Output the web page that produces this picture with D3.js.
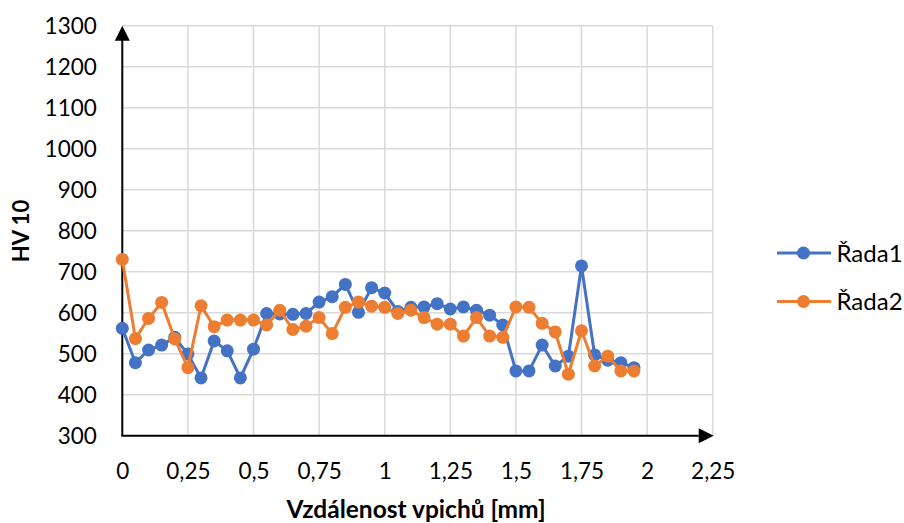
<!DOCTYPE html>
<html><head><meta charset="utf-8">
<script src="https://cdn.jsdelivr.net/npm/d3@7"></script>
<style>body{margin:0;background:#fff}svg{display:block}text{font-family:Lato,"Open Sans",sans-serif;fill:#000}</style>
</head><body><svg id="c" width="904" height="523"></svg>
<script>
const xValues = [0,0.05,0.1,0.15,0.2,0.25,0.3,0.35,0.4,0.45,0.5,0.55,0.6,0.65,0.7,0.75,0.8,0.85,0.9,0.95,1,1.05,1.1,1.15,1.2,1.25,1.3,1.35,1.4,1.45,1.5,1.55,1.6,1.65,1.7,1.75,1.8,1.85,1.9,1.95];
const rada1 = [562,478,509,521,540,499,441,531,507,441,511,598,597,596,598,626,639,669,601,661,648,603,613,614,622,609,614,606,594,570,458,458,521,470,494,714,497,484,478,466];
const rada2 = [730,537,586,625,536,466,617,566,582,582,582,570,606,559,567,588,549,613,626,616,613,598,606,588,572,572,543,588,543,540,614,613,574,553,450,556,470,494,458,458];
const seriesNames = ["Řada1","Řada2"];
const seriesColors = ["#4472C4","#ED7D31"];
const xTicks = [0,0.25,0.5,0.75,1,1.25,1.5,1.75,2,2.25];
const yTicks = [300,400,500,600,700,800,900,1000,1100,1200,1300];

const svg = d3.select("#c");
const x = d3.scaleLinear().domain([0,2.25]).range([122.3,712.7]);
const y = d3.scaleLinear().domain([300,1300]).range([435.7,25.7]);
const fmt = d => String(d).replace(".", ",");

// grid
svg.append("g").selectAll("line").data(yTicks.slice(1)).join("line")
  .attr("x1", x(0)).attr("x2", x(2.25)).attr("y1", d=>y(d)).attr("y2", d=>y(d))
  .attr("stroke","#d9d9d9").attr("stroke-width",1.5);
svg.append("g").selectAll("line").data(xTicks.slice(1)).join("line")
  .attr("x1", d=>x(d)).attr("x2", d=>x(d)).attr("y1", y(300)).attr("y2", y(1300))
  .attr("stroke","#d9d9d9").attr("stroke-width",1.5);

// axes via d3 axis generators (labels only)
const yAxis = svg.append("g").attr("transform",`translate(${x(0)-25.5},0)`)
  .call(d3.axisLeft(y).tickValues(yTicks).tickFormat(d=>String(d)).tickSize(0).tickPadding(0));
yAxis.select(".domain").remove();
yAxis.selectAll("text").attr("font-size",22.5).attr("font-family","Lato").attr("fill","#000").attr("dy","0.36em");

const xAxis = svg.append("g").attr("transform",`translate(0,${y(300)+27.5})`)
  .call(d3.axisBottom(x).tickValues(xTicks).tickFormat(fmt).tickSize(0).tickPadding(0));
xAxis.select(".domain").remove();
xAxis.selectAll("text").attr("font-size",22.5).attr("font-family","Lato").attr("fill","#000").attr("dy","0.71em");

// axis lines with arrows
svg.append("line").attr("x1",x(0)).attr("x2",x(0)).attr("y1",y(300)).attr("y2",y(1300)+14)
  .attr("stroke","#000").attr("stroke-width",2);
svg.append("path").attr("d",`M${x(0)},${y(1300)} L${x(0)-7.5},${y(1300)+15} L${x(0)+7.5},${y(1300)+15}Z`).attr("fill","#000");
svg.append("line").attr("x1",x(0)-1).attr("x2",x(2.25)-14).attr("y1",y(300)).attr("y2",y(300))
  .attr("stroke","#000").attr("stroke-width",2);
svg.append("path").attr("d",`M${x(2.25)+1},${y(300)} L${x(2.25)-14},${y(300)-7.5} L${x(2.25)-14},${y(300)+7.5}Z`).attr("fill","#000");

// series
const data = [rada1, rada2];
const line = d3.line().x((d,i)=>x(xValues[i])).y(d=>y(d));
data.forEach((s,k)=>{
  const g = svg.append("g");
  g.append("path").datum(s).attr("d",line).attr("fill","none")
    .attr("stroke",seriesColors[k]).attr("stroke-width",3).attr("stroke-linejoin","round");
  g.selectAll("circle").data(s).join("circle")
    .attr("cx",(d,i)=>x(xValues[i])).attr("cy",d=>y(d)).attr("r",6.5).attr("fill",seriesColors[k]);
});

// axis titles
svg.append("text").attr("x",416).attr("y",518).attr("text-anchor","middle")
  .attr("font-size",24.5).attr("font-weight","bold").text("Vzdálenost vpichů [mm]");
svg.append("text").attr("transform","translate(28.5,231) rotate(-90)").attr("text-anchor","middle")
  .attr("font-size",22).attr("font-weight","bold").text("HV 10");

// legend
const leg = svg.append("g");
seriesNames.forEach((n,k)=>{
  const ly = 253 + k*48.5;
  leg.append("line").attr("x1",777).attr("x2",831).attr("y1",ly).attr("y2",ly)
    .attr("stroke",seriesColors[k]).attr("stroke-width",3);
  leg.append("circle").attr("cx",803.5).attr("cy",ly).attr("r",6.5).attr("fill",seriesColors[k]);
  leg.append("text").attr("x",836.5).attr("y",ly).attr("dy","0.36em").attr("font-size",24).text(n);
});
</script></body></html>
